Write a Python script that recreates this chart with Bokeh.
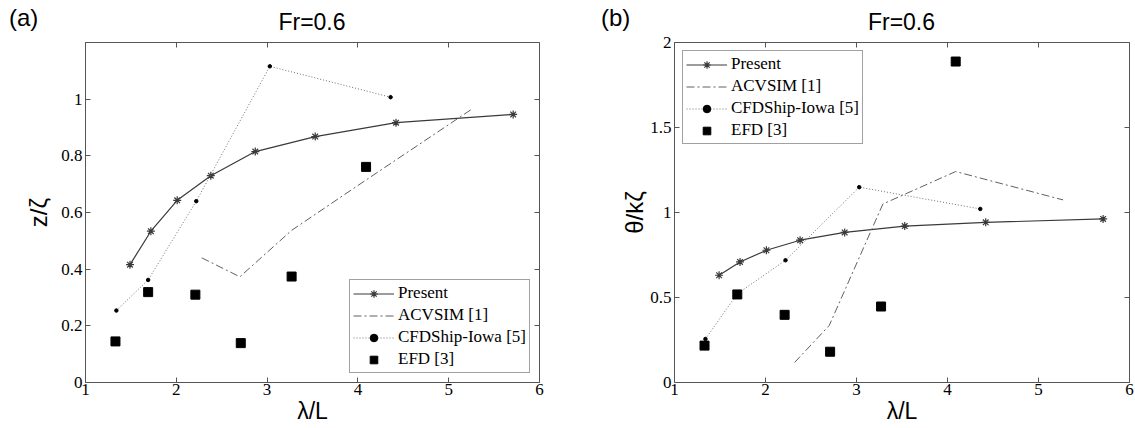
from bokeh.plotting import figure
from bokeh.layouts import row, column
from bokeh.models import (Range1d, LinearAxis, FixedTicker, Legend,
                          LegendItem, CustomJSTickFormatter, Div)
from bokeh.embed import file_html
from bokeh.resources import INLINE

# ---------------- data ----------------
x_ticks = [1, 2, 3, 4, 5, 6]
ya_ticks = [0, 0.2, 0.4, 0.6, 0.8, 1]
yb_ticks = [0, 0.5, 1, 1.5, 2]

present_x = [1.49, 1.72, 2.01, 2.38, 2.87, 3.53, 4.42, 5.71]
present_z = [0.416, 0.534, 0.643, 0.730, 0.815, 0.868, 0.917, 0.946]
present_th = [0.631, 0.709, 0.778, 0.837, 0.883, 0.920, 0.942, 0.962]

acv_x_a = [2.28, 2.70, 3.27, 4.10, 5.26]
acv_z = [0.440, 0.373, 0.537, 0.717, 0.966]
acv_x_b = [2.32, 2.70, 3.29, 4.09, 5.27]
acv_th = [0.118, 0.335, 1.050, 1.241, 1.074]

cfd_x = [1.34, 1.69, 2.22, 3.03, 4.36]
cfd_z = [0.254, 0.362, 0.640, 1.116, 1.007]
cfd_th = [0.256, 0.522, 0.719, 1.149, 1.021]

efd_x = [1.33, 1.69, 2.21, 2.71, 3.27, 4.09]
efd_z = [0.145, 0.319, 0.310, 0.139, 0.374, 0.761]
efd_th = [0.217, 0.518, 0.398, 0.181, 0.447, 1.888]

labels = ["Present", "ACVSIM [1]", "CFDShip-Iowa [5]", "EFD [3]"]
title_text = "Fr=0.6"
x_label = "λ/L"

AX = "#555555"
SERIF = "Liberation Serif"
SANS = "Liberation Sans"


def style_axis(ax, ticks, show_labels, standoff=3):
    ax.ticker = FixedTicker(ticks=ticks)
    ax.axis_line_color = AX
    ax.axis_line_width = 1
    ax.major_tick_line_color = AX
    ax.major_tick_in = 5
    ax.major_tick_out = 0
    ax.minor_tick_line_color = None
    ax.major_label_text_font = SERIF
    ax.major_label_text_color = "black"
    ax.axis_label_text_font = SANS
    ax.axis_label_text_font_style = "normal"
    ax.axis_label_text_color = "black"
    if show_labels:
        ax.major_label_text_font_size = "17px"
        ax.major_label_standoff = standoff
    else:
        ax.formatter = CustomJSTickFormatter(code="return ''")
        ax.major_label_text_font_size = "1px"
        ax.major_label_standoff = 0


def make_panel(width, border_right, ymax, yticks, xs_acv, ys_present, ys_acv,
               ys_cfd, ys_efd, ylabel, ylabel_standoff, legend_loc):
    p = figure(width=width, height=396, x_range=Range1d(1, 6),
               y_range=Range1d(0, ymax), output_backend="svg",
               toolbar_location=None, x_axis_type=None, y_axis_type=None,
               min_border_left=85, min_border_right=border_right,
               min_border_top=10, min_border_bottom=46)
    p.outline_line_color = None
    p.xgrid.visible = False
    p.ygrid.visible = False
    p.background_fill_color = "white"
    p.border_fill_color = "white"

    bx = LinearAxis(axis_label=x_label)
    style_axis(bx, x_ticks, True, standoff=1)
    bx.axis_label_text_font_size = "23px"
    bx.axis_label_standoff = 0
    p.add_layout(bx, "below")

    ly = LinearAxis(axis_label=ylabel)
    style_axis(ly, yticks, True, standoff=3)
    ly.axis_label_text_font_size = "24px"
    ly.axis_label_standoff = ylabel_standoff
    p.add_layout(ly, "left")

    tx = LinearAxis(); style_axis(tx, x_ticks, False); p.add_layout(tx, "above")
    ry = LinearAxis(); style_axis(ry, yticks, False); p.add_layout(ry, "right")

    r_pl = p.line(present_x, ys_present, line_color="#3a3a3a", line_width=1.2)
    r_ps = p.scatter(present_x, ys_present, marker="asterisk", size=8,
                     line_color="#3a3a3a", line_width=1.2)
    r_al = p.line(xs_acv, ys_acv, line_color="#606060", line_width=1,
                  line_dash="8 3 2 3")
    r_cl = p.line(cfd_x, ys_cfd, line_color="#707070", line_width=1,
                  line_dash="1 2")
    r_cs = p.scatter(cfd_x, ys_cfd, marker="circle", size=3.5,
                     fill_color="black", line_color="black")
    r_es = p.scatter(efd_x, ys_efd, marker="square", size=9,
                     fill_color="black", line_color="black")

    legend = Legend(items=[
        LegendItem(label=labels[0], renderers=[r_pl, r_ps]),
        LegendItem(label=labels[1], renderers=[r_al]),
        LegendItem(label=labels[2], renderers=[r_cl, r_cs]),
        LegendItem(label=labels[3], renderers=[r_es]),
    ], location=legend_loc)
    legend.border_line_color = "#444444"
    legend.border_line_width = 1
    legend.background_fill_color = "white"
    legend.background_fill_alpha = 1
    legend.label_text_font = SERIF
    legend.label_text_font_size = "17px"
    legend.label_text_color = "black"
    legend.glyph_width = 41
    legend.glyph_height = 19
    legend.label_height = 19
    legend.label_standoff = 4
    legend.padding = 3
    legend.spacing = 2
    legend.margin = 8
    p.add_layout(legend)
    return p


def header(tag, tag_pad, frame_w):
    base = {"font-family": SANS, "color": "black", "line-height": "20px",
            "white-space": "nowrap"}
    d_tag = Div(text=tag, width=85, height=32, margin=0,
                styles=dict(base, **{"font-size": "24px",
                                     "padding-top": "8px",
                                     "padding-left": f"{tag_pad}px"}))
    d_title = Div(text=title_text, width=frame_w, height=32, margin=0,
                  styles=dict(base, **{"font-size": "23px",
                                       "padding-top": "12px",
                                       "text-align": "center"}))
    return row(d_tag, d_title, spacing=0)


pa = make_panel(589, 50, 1.2, ya_ticks, acv_x_a, present_z, acv_z, cfd_z,
                efd_z, "z/ζ", 6, (264, 9))
pb = make_panel(545, 5, 2.0, yb_ticks, acv_x_b, present_th, acv_th, cfd_th,
                efd_th, "θ/kζ", -1, "top_left")

col_a = column(header("(a)", 9, 454), pa, spacing=0)
col_b = column(header("(b)", 12, 455), pb, spacing=0)
layout = row(col_a, col_b, spacing=0)
open("out.html", "w").write(file_html(layout, INLINE))
